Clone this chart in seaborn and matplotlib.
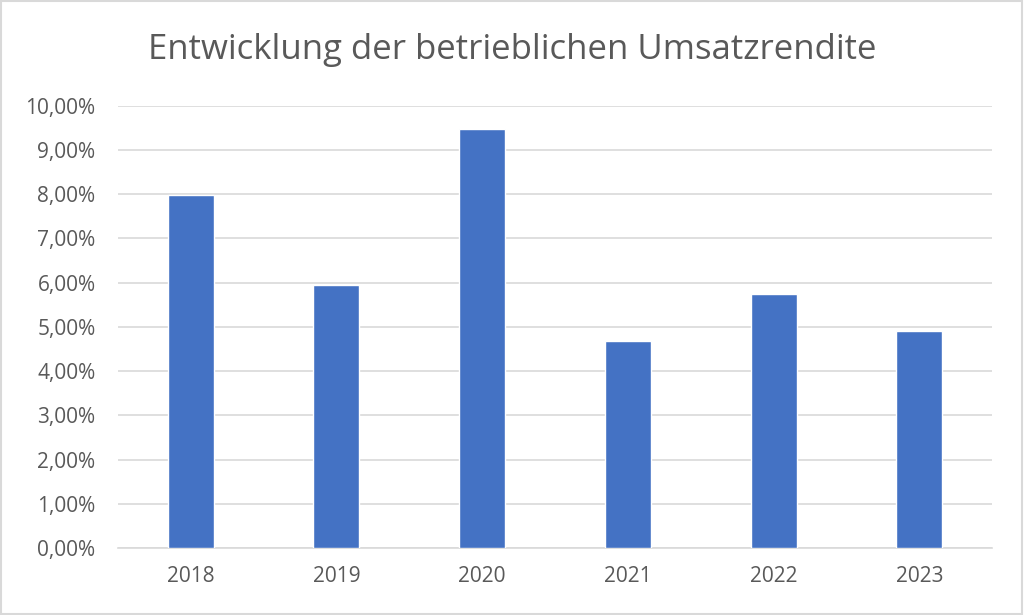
import matplotlib
matplotlib.use('Agg')
import matplotlib.pyplot as plt
import seaborn as sns
import pandas as pd
from matplotlib.ticker import FuncFormatter

years = ['2018', '2019', '2020', '2021', '2022', '2023']
rendite = [0.0798, 0.0594, 0.0948, 0.0467, 0.0574, 0.0491]

df = pd.DataFrame({'Jahr': years, 'Rendite': rendite})

sns.set_theme(style="white")
plt.rcParams['font.family'] = ['Open Sans', 'DejaVu Sans']

fig = plt.figure(figsize=(10.24, 6.15), dpi=100)
ax = fig.add_axes([0.115, 0.109, 0.854, 0.719])

sns.barplot(data=df, x='Jahr', y='Rendite', color='#4472C4', width=0.315,
            saturation=1, ax=ax, zorder=3)

ax.set_ylim(0, 0.10)
ax.set_xlim(-0.5, 5.5)
ax.set_yticks([i / 100 for i in range(11)])
ax.yaxis.set_major_formatter(FuncFormatter(lambda v, p: f"{v * 100:.2f}%".replace('.', ',')))
ax.grid(axis='y', color='#d9d9d9', linewidth=1.2, zorder=0)
for s in ['top', 'right', 'left']:
    ax.spines[s].set_visible(False)
ax.spines['bottom'].set_color('#d9d9d9')
ax.spines['bottom'].set_linewidth(1.2)
ax.tick_params(axis='both', length=0, labelsize=15, colors='#595959')
ax.tick_params(axis='x', pad=13)
ax.tick_params(axis='y', pad=16)
ax.set_xlabel('')
ax.set_ylabel('')

fig.text(0.5, 0.918, 'Entwicklung der betrieblichen Umsatzrendite',
         ha='center', va='center', fontsize=25, color='#595959')

fig.patches.append(plt.Rectangle((0.001, 0.001), 0.997, 0.997, transform=fig.transFigure,
                                 fill=False, edgecolor='#d9d9d9', linewidth=1.5))

plt.savefig('out.png', dpi=100)
plt.close()
